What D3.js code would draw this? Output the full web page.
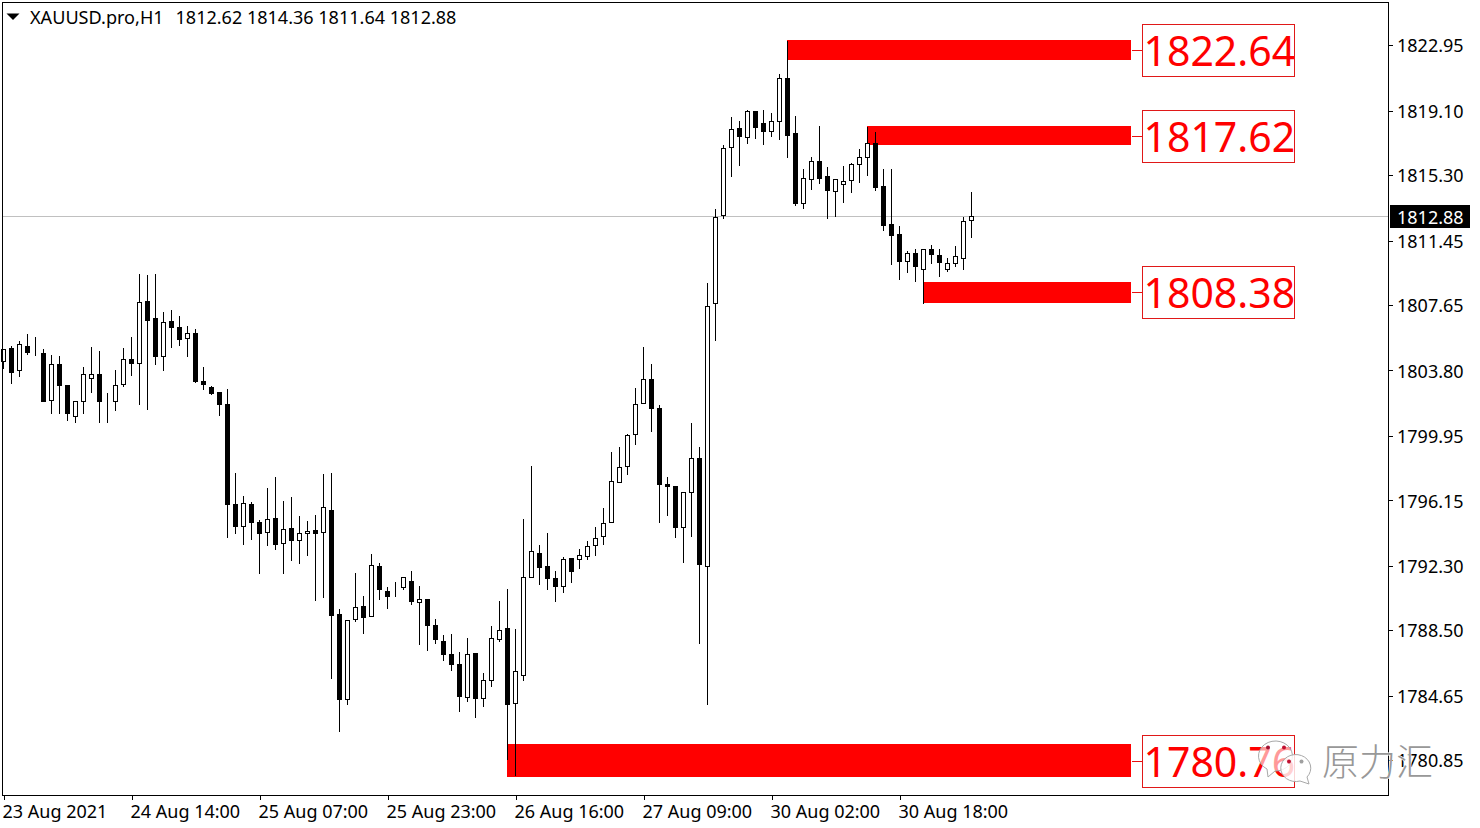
<!DOCTYPE html>
<html>
<head>
<meta charset="utf-8">
<script src="https://cdnjs.cloudflare.com/ajax/libs/d3/7.8.5/d3.min.js"></script>
<style>
html,body{margin:0;padding:0;background:#fff;overflow:hidden}
svg{display:block}
text{font-family:"Noto Sans",sans-serif}
</style>
</head>
<body>
<svg id="c" width="1480" height="828"></svg>
<script>
const symbol = "XAUUSD.pro,H1";
const ohlcText = "1812.62 1814.36 1811.64 1812.88";
const lastPrice = 1812.88;
const opens = [1804.32,1805.07,1803.81,1805.23,1804.87,1804.81,1802.05,1804.17,1802.93,1801.10,1801.99,1803.34,1803.58,1802.05,1801.99,1802.97,1804.42,1804.22,1807.88,1806.87,1804.64,1806.70,1806.34,1805.70,1805.99,1803.16,1802.81,1802.52,1801.81,1795.92,1794.62,1795.92,1794.86,1794.27,1795.09,1793.62,1794.51,1793.80,1794.21,1794.35,1794.27,1795.57,1789.44,1784.44,1789.15,1789.91,1789.32,1792.27,1790.80,1791.05,1791.03,1791.38,1790.15,1790.32,1788.79,1787.85,1787.09,1786.50,1784.55,1787.14,1784.49,1785.55,1787.97,1788.62,1784.20,1785.85,1791.62,1793.04,1792.27,1791.56,1791.09,1792.74,1792.68,1792.86,1793.51,1794.04,1794.86,1797.22,1798.16,1800.04,1801.87,1803.28,1801.58,1797.10,1796.98,1794.57,1796.63,1798.63,1792.27,1807.76,1812.92,1816.93,1818.07,1817.52,1819.07,1818.36,1817.89,1818.48,1821.01,1817.73,1813.63,1815.06,1816.12,1815.24,1814.36,1814.77,1815.00,1815.95,1816.36,1817.18,1814.65,1812.41,1811.82,1810.23,1810.70,1809.76,1810.94,1810.59,1809.76,1810.11,1810.41,1812.62];
const highs = [1805.05,1805.30,1805.54,1805.95,1805.83,1805.07,1804.72,1804.66,1802.99,1801.99,1804.01,1805.19,1804.95,1802.48,1803.83,1805.13,1805.78,1809.49,1809.43,1809.54,1807.25,1807.40,1807.05,1806.46,1806.29,1804.01,1802.93,1802.52,1802.71,1797.82,1796.41,1796.10,1795.04,1796.88,1797.53,1796.17,1796.35,1795.27,1794.94,1795.29,1797.71,1797.82,1789.79,1789.11,1791.93,1790.52,1793.03,1792.50,1791.09,1791.38,1791.68,1792.03,1791.15,1790.38,1789.22,1788.28,1788.34,1787.28,1788.05,1787.18,1786.04,1788.81,1790.28,1790.99,1788.62,1795.06,1798.22,1793.53,1794.23,1792.00,1792.82,1792.80,1793.33,1793.76,1794.59,1795.71,1799.00,1799.30,1800.08,1802.77,1805.19,1804.19,1801.77,1797.53,1797.00,1796.63,1800.71,1799.30,1809.00,1813.35,1817.12,1818.73,1818.54,1819.18,1819.09,1819.18,1818.97,1821.30,1823.26,1818.83,1815.67,1816.42,1818.20,1815.79,1815.06,1815.85,1816.06,1816.89,1818.16,1817.87,1815.67,1815.67,1812.35,1810.88,1811.00,1811.00,1811.23,1811.00,1810.47,1811.18,1812.88,1814.36];
const lows = [1803.93,1803.01,1803.44,1804.77,1804.66,1801.97,1801.24,1801.24,1800.85,1800.73,1801.24,1802.50,1800.73,1800.73,1801.44,1802.85,1803.50,1801.79,1801.50,1804.15,1803.79,1805.15,1805.26,1804.62,1803.09,1802.67,1802.40,1801.14,1793.96,1794.19,1793.55,1793.84,1791.84,1793.48,1793.25,1791.84,1792.60,1792.42,1792.90,1790.25,1790.42,1785.65,1782.53,1784.12,1789.01,1788.30,1789.32,1790.30,1789.77,1790.48,1790.89,1790.01,1787.65,1787.30,1787.71,1786.71,1786.12,1783.71,1784.30,1783.36,1784.00,1785.18,1787.83,1780.92,1779.96,1785.54,1791.62,1791.17,1790.88,1790.19,1790.72,1791.31,1792.13,1792.66,1792.90,1793.55,1794.86,1797.22,1797.67,1799.44,1801.87,1800.18,1794.84,1795.25,1793.96,1792.49,1794.02,1787.72,1784.12,1805.54,1812.77,1815.20,1815.85,1817.16,1817.46,1817.10,1817.58,1817.40,1816.34,1813.51,1813.33,1814.45,1814.81,1812.75,1812.86,1813.69,1814.28,1814.87,1815.28,1814.39,1812.04,1810.06,1809.15,1809.57,1809.04,1807.76,1810.11,1809.33,1809.62,1809.92,1809.74,1811.64];
const closes = [1805.01,1803.67,1805.34,1804.83,1804.87,1801.97,1804.17,1802.91,1801.26,1801.99,1803.58,1803.58,1801.97,1802.05,1802.93,1804.46,1804.21,1807.82,1806.74,1804.62,1806.64,1806.33,1805.62,1805.99,1803.14,1802.97,1802.44,1801.79,1795.90,1794.61,1795.98,1794.86,1794.21,1795.04,1793.54,1794.45,1793.78,1794.21,1794.33,1794.19,1795.74,1789.36,1784.42,1789.09,1789.85,1789.24,1792.33,1790.89,1790.48,1791.05,1791.62,1790.19,1790.32,1788.77,1787.95,1787.07,1786.48,1784.59,1787.09,1784.47,1785.55,1788.03,1788.50,1784.12,1786.08,1791.62,1793.15,1792.19,1791.54,1791.07,1792.68,1791.96,1792.92,1793.45,1793.92,1794.80,1797.28,1798.10,1799.99,1801.81,1803.28,1801.56,1797.08,1796.96,1794.55,1796.63,1798.63,1792.37,1807.56,1812.82,1816.89,1818.01,1817.58,1819.07,1818.11,1817.89,1818.48,1821.01,1817.63,1813.63,1815.12,1816.12,1815.12,1814.41,1815.06,1814.94,1815.95,1816.36,1817.18,1814.59,1812.35,1811.74,1810.23,1810.70,1809.92,1810.94,1810.65,1810.17,1810.11,1810.53,1812.59,1812.88];
const priceTicks = [1822.95,1819.10,1815.30,1811.45,1807.65,1803.80,1799.95,1796.15,1792.30,1788.50,1784.65,1780.85];
const timeTickIndex = [0,16,32,48,64,80,96,112];
const timeTickLabels = ["23 Aug 2021","24 Aug 14:00","25 Aug 07:00","25 Aug 23:00","26 Aug 16:00","27 Aug 09:00","30 Aug 02:00","30 Aug 18:00"];
const zoneStart = [98,108,115,63];
const zoneTop = [1823.26,1818.20,1809.03,1781.80];
const zoneBottom = [1822.09,1817.10,1807.79,1779.84];
const zoneLevel = [1822.64,1817.62,1808.38,1780.76];
const zoneEndIndex = 141;

const svg = d3.select("#c");
const frame = {l:2.5, t:2.5, r:1388.5, b:795.5};
const x = d3.scaleLinear().domain([0,zoneEndIndex]).range([3.5,1131.5]);
const y = d3.scaleLinear().domain([1822.95,1780.85]).range([45.3,760.2]);
const snap = v => Math.round(y(v)-0.5)+0.5;
const labelY = v => Math.round(y(v)+0.75);

const candles = opens.map((o,i)=>({i,o,h:highs[i],l:lows[i],c:closes[i]}));

svg.append("rect").attr("width",1480).attr("height",828).attr("fill","#fff");

const zones = zoneStart.map((s,k)=>({s,t:zoneTop[k],b:zoneBottom[k],lv:zoneLevel[k]}));
svg.append("g").selectAll("rect").data(zones).join("rect")
  .attr("x",d=>x(d.s)-0.5).attr("width",d=>x(zoneEndIndex)-x(d.s))
  .attr("y",d=>y(d.t)).attr("height",d=>y(d.b)-y(d.t))
  .attr("fill","#ff0000").attr("shape-rendering","crispEdges");

svg.append("line").attr("x1",frame.l).attr("x2",frame.r).attr("y1",snap(lastPrice)).attr("y2",snap(lastPrice))
  .attr("stroke","#c0c0c0").attr("shape-rendering","crispEdges");

const g = svg.append("g").attr("shape-rendering","crispEdges");
g.selectAll("line").data(candles).join("line")
  .attr("x1",d=>x(d.i)).attr("x2",d=>x(d.i)).attr("y1",d=>snap(d.h)).attr("y2",d=>snap(d.l)+0.5)
  .attr("stroke","#000");
g.selectAll("rect").data(candles).join("rect")
  .attr("x",d=>x(d.i)-2).attr("width",4)
  .attr("y",d=>snap(Math.max(d.o,d.c))).attr("height",d=>snap(Math.min(d.o,d.c))-snap(Math.max(d.o,d.c)))
  .attr("fill",d=>d.c>=d.o?"#fff":"#000").attr("stroke","#000");

const boxH = 52, boxL = 1142.5, boxW = 152;
const lab = svg.append("g").selectAll("g").data(zones).join("g");
lab.append("line").attr("x1",x(zoneEndIndex)).attr("x2",boxL)
  .attr("y1",d=>labelY(d.lv)-0.5).attr("y2",d=>labelY(d.lv)-0.5)
  .attr("stroke","#e81010").attr("shape-rendering","crispEdges");
lab.append("rect").attr("x",boxL).attr("width",boxW).attr("height",boxH)
  .attr("y",d=>labelY(d.lv)-27+0.5).attr("fill","#fff")
  .attr("stroke","#e01818").attr("shape-rendering","crispEdges");
lab.append("text").attr("x",boxL+1).attr("y",d=>labelY(d.lv)+14.5)
  .attr("fill","#ff0000").style("font-size","41px").text(d=>d.lv.toFixed(2));

svg.append("rect").attr("x",frame.l).attr("y",frame.t).attr("width",frame.r-frame.l).attr("height",frame.b-frame.t)
  .attr("fill","none").attr("stroke","#000").attr("shape-rendering","crispEdges");

const ya = svg.append("g").attr("transform",`translate(${frame.r},0)`)
  .call(d3.axisRight(y).tickValues(priceTicks).tickFormat(d3.format(".2f")).tickSize(4).tickPadding(5));
ya.select(".domain").remove();
ya.selectAll("line").attr("stroke","#000").attr("shape-rendering","crispEdges");
ya.selectAll("text").attr("x",8.5).attr("dy","0.37em").attr("fill","#000").style("font-size","18px").style("font-family",'"Noto Sans",sans-serif');

const xa = svg.append("g").attr("transform",`translate(0,${frame.b})`)
  .call(d3.axisBottom(x).tickValues(timeTickIndex).tickFormat((d,i)=>timeTickLabels[i]).tickSize(4));
xa.select(".domain").remove();
xa.selectAll("line").attr("stroke","#000").attr("shape-rendering","crispEdges");
xa.selectAll("text").attr("text-anchor","start").attr("dx","-1.5").attr("y",22.5).attr("dy",0).attr("fill","#000").style("font-size","18px").style("font-family",'"Noto Sans",sans-serif');

svg.append("rect").attr("x",1390).attr("y",205).attr("width",80).attr("height",23).attr("fill","#000");
svg.append("text").attr("x",1397).attr("y",y(lastPrice)+7.5).attr("fill","#fff").style("font-size","18px").text(lastPrice.toFixed(2));

svg.append("path").attr("d","M6.5,13.5L19.5,13.5L13,20Z").attr("fill","#000");
svg.append("text").attr("x",30).attr("y",24).attr("fill","#000").style("font-size","18.1px").text(symbol);
svg.append("text").attr("x",175.5).attr("y",24).attr("fill","#000").style("font-size","18.05px").text(ohlcText);

const wm = svg.append("g");
wm.append("path").attr("d","M1278,776 L1271,782 L1270,774 A17,15 0 1 1 1278,776 Z")
  .attr("transform","translate(-3,-5)")
  .attr("fill","#fff").attr("fill-opacity",0.6).attr("stroke","#a8a8a8").attr("stroke-width",1);
wm.append("path").attr("d","M1307,777 L1309,784 L1300,781 A15,13.5 0 1 1 1307,777 Z")
  .attr("fill","#fff").attr("fill-opacity",0.82).attr("stroke","#a8a8a8").attr("stroke-width",1);
[[1268,747.5,"#a01030"],[1284,747.5,"#c01030"],[1289,761.5,"#c01030"],[1301.5,761.5,"#a0a0a0"]].forEach(p=>{
  wm.append("circle").attr("cx",p[0]).attr("cy",p[1]).attr("r",2).attr("fill",p[2]);
});
wm.append("text").attr("x",1322).attr("y",776).style("font-family",'"Noto Sans CJK SC"').style("font-size","37px")
  .style("font-weight","300").attr("fill","#989898").attr("stroke","#fff").attr("stroke-width",1.2).attr("paint-order","stroke").text("原力汇");
</script>
</body>
</html>
